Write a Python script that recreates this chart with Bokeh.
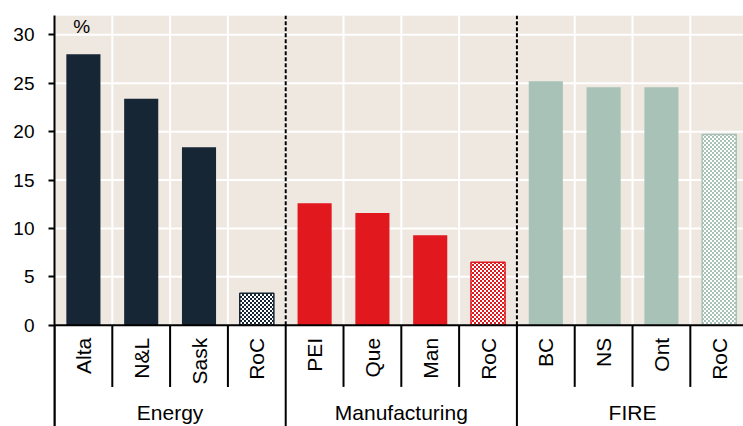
import base64
import math
import struct
import zlib

from bokeh.core.properties import value
from bokeh.embed import file_html
from bokeh.models import ColumnDataSource, FixedTicker, ImageURLTexture, Range1d
from bokeh.plotting import figure
from bokeh.resources import INLINE

# ---------------- data ----------------
groups = ["Energy", "Manufacturing", "FIRE"]
energy_labels = ["Alta", "N&L", "Sask", "RoC"]
manufacturing_labels = ["PEI", "Que", "Man", "RoC"]
fire_labels = ["BC", "NS", "Ont", "RoC"]
energy = [28.0, 23.4, 18.4, 3.3]
manufacturing = [12.6, 11.6, 9.3, 6.5]
fire = [25.2, 24.6, 24.6, 19.7]
y_ticks = [0, 5, 10, 15, 20, 25, 30]
unit_label = "%"

group_labels = [energy_labels, manufacturing_labels, fire_labels]
group_values = [energy, manufacturing, fire]
group_colors = ["#172635", "#e1191f", "#a8c2b8"]
BG = "#efe8e1"
FONT = "Liberation Sans"


def hex_rgb(h):
    h = h.lstrip("#")
    return tuple(int(h[i:i + 2], 16) for i in (0, 2, 4))


def checker_url(color, cell=2):
    c1 = bytes(hex_rgb(color))
    c2 = bytes((255, 255, 255))
    size = cell * 2
    raw = b""
    for yy in range(size):
        row = b"\x00"
        for xx in range(size):
            row += c1 if ((xx // cell) + (yy // cell)) % 2 == 0 else c2
        raw += row

    def chunk(tag, data):
        return (struct.pack(">I", len(data)) + tag + data
                + struct.pack(">I", zlib.crc32(tag + data) & 0xFFFFFFFF))

    png = b"\x89PNG\r\n\x1a\n"
    png += chunk(b"IHDR", struct.pack(">IIBBBBB", size, size, 8, 2, 0, 0, 0))
    png += chunk(b"IDAT", zlib.compress(raw))
    png += chunk(b"IEND", b"")
    return "data:image/png;base64," + base64.b64encode(png).decode()


n_per_group = len(energy_labels)
n_total = n_per_group * len(groups)
Y_TOP = 32.0
Y_BOTTOM = -10.46

p = figure(
    width=743, height=426, output_backend="svg", toolbar_location=None,
    x_range=Range1d(0, 11.92), y_range=Range1d(Y_BOTTOM, Y_TOP),
    x_axis_location=None, min_border_left=54, min_border_right=0,
    min_border_top=15, min_border_bottom=0,
)
p.outline_line_color = None
p.background_fill_color = "white"
p.border_fill_color = "white"
p.grid.visible = False

# y axis
ya = p.yaxis[0]
ya.ticker = FixedTicker(ticks=y_ticks)
ya.axis_line_width = 2
ya.axis_line_color = "black"
ya.major_tick_line_width = 2
ya.major_tick_line_color = "black"
ya.major_tick_out = 6
ya.major_tick_in = 0
ya.minor_tick_line_color = None
ya.major_label_standoff = 14
ya.major_label_text_font = FONT
ya.major_label_text_font_size = "19px"
ya.major_label_text_color = "black"

# plot-area background
p.quad(left=[0], right=[n_total], bottom=[0], top=[Y_TOP], fill_color=BG, line_color=None)

# white grid
gy = [t for t in y_ticks if t > 0]
p.segment(x0=[0] * len(gy), x1=[n_total] * len(gy), y0=gy, y1=gy, line_color="white", line_width=2)
bx = list(range(1, n_total))
p.segment(x0=bx, x1=bx, y0=[0] * len(bx), y1=[Y_TOP] * len(bx), line_color="white", line_width=2)

# group separators (dashed)
sep = [n_per_group * k for k in range(1, len(groups))]
p.segment(x0=sep, x1=sep, y0=[0] * len(sep), y1=[Y_TOP] * len(sep),
          line_color="black", line_width=2, line_dash="4 2")

# bars
for gi, (labs, vals, col) in enumerate(zip(group_labels, group_values, group_colors)):
    xs = [gi * n_per_group + i + 0.5 for i in range(n_per_group)]
    solid = ColumnDataSource(dict(x=xs[:-1], top=vals[:-1]))
    p.vbar(x="x", top="top", bottom=0, width=0.59, source=solid,
           fill_color=col, line_color=None)
    rest = ColumnDataSource(dict(x=xs[-1:], top=vals[-1:]))
    name = f"checker{gi}"
    p.vbar(x="x", top="top", bottom=0, width=0.59, source=rest,
           fill_color="white", line_color=col, line_width=1.5,
           hatch_pattern=value(name),
           hatch_extra={name: ImageURLTexture(url=checker_url(col))})

# x axis line
p.segment(x0=[0], x1=[n_total], y0=[0], y1=[0], line_color="black", line_width=2)

# category tick lines below the axis
short = [k for k in range(1, n_total) if k % n_per_group != 0]
p.segment(x0=short, x1=short, y0=[0] * len(short), y1=[-6.37] * len(short),
          line_color="black", line_width=2)
long_ = [k for k in range(0, n_total + 1) if k % n_per_group == 0]
p.segment(x0=long_, x1=long_, y0=[0] * len(long_), y1=[Y_BOTTOM] * len(long_),
          line_color="black", line_width=2)

# category labels
all_labels = [l for labs in group_labels for l in labs]
cx = [i + 0.5 for i in range(n_total)]
p.text(x=cx, y=[-1.3] * n_total, text=all_labels, angle=math.pi / 2,
       text_align="right", text_baseline="middle", text_font=value(FONT),
       text_font_size="21px", text_color="black")

# group labels
gx = [n_per_group * k + n_per_group / 2 for k in range(len(groups))]
p.text(x=gx, y=[-9.0] * len(groups), text=groups, text_align="center",
       text_baseline="middle", text_font=value(FONT), text_font_size="21px",
       text_color="black")

# unit label
p.text(x=[0.47], y=[30.85], text=[unit_label], text_align="center",
       text_baseline="middle", text_font=value(FONT), text_font_size="19px",
       text_color="black")

open("out.html", "w").write(file_html(p, INLINE))
